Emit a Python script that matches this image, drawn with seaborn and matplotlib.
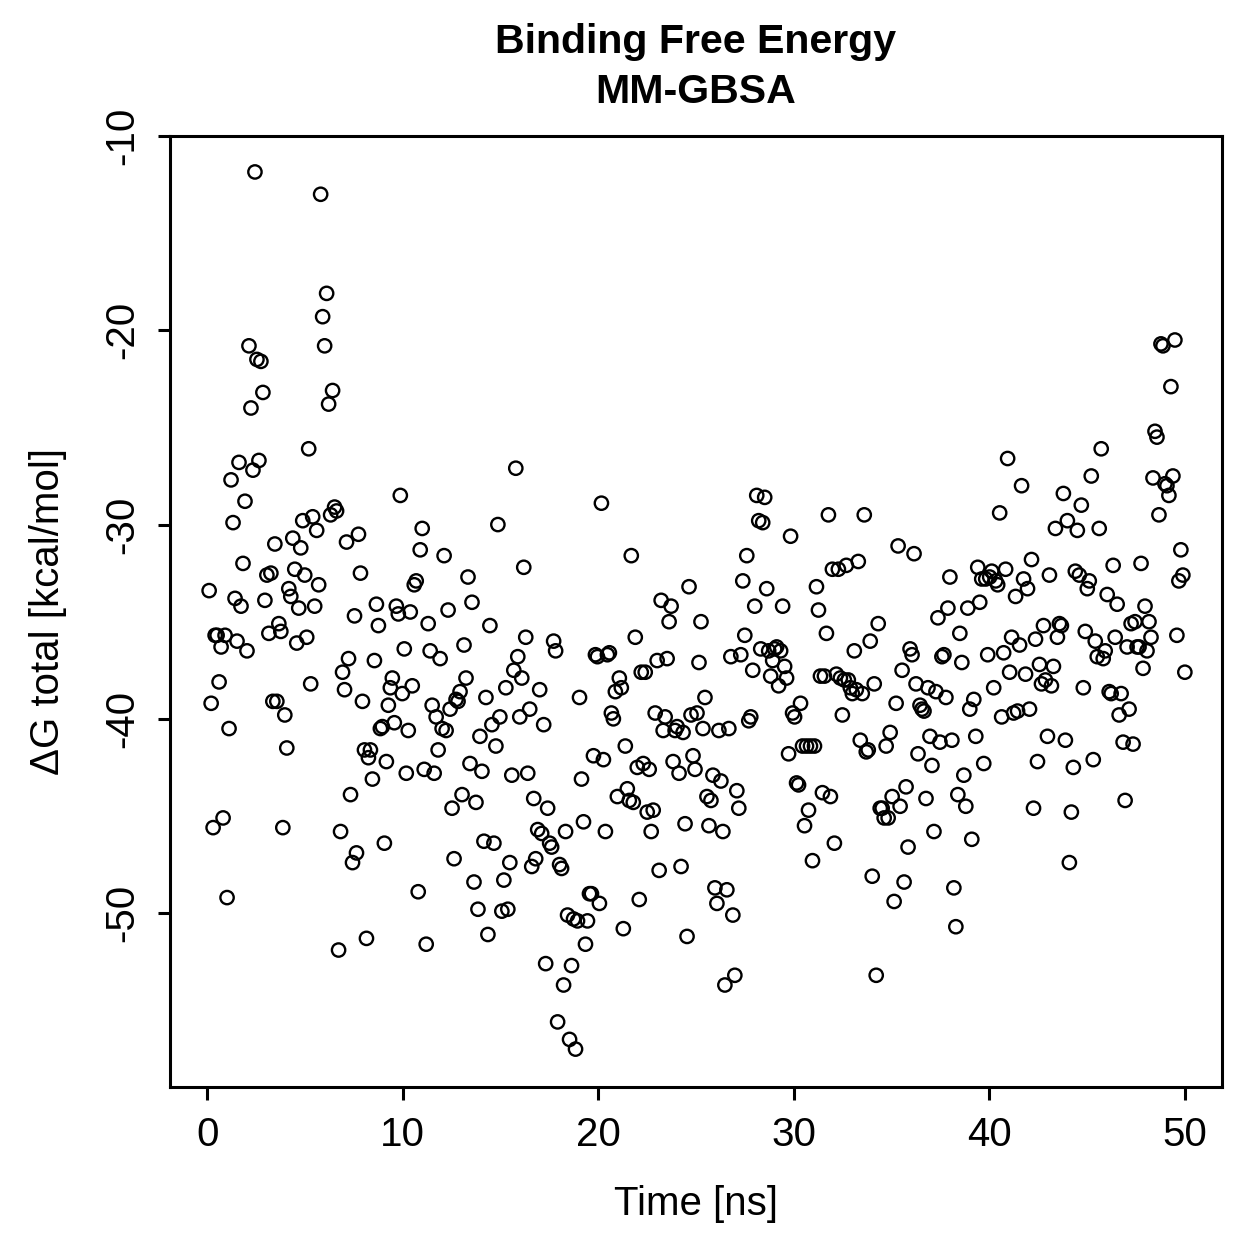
import numpy as np
import pandas as pd
import matplotlib
matplotlib.use("Agg")
import matplotlib.pyplot as plt
import seaborn as sns

# ---- data ----
dG_total = [
    -33.4, -39.2, -45.6, -35.7, -35.7, -38.1, -36.3, -45.1, -35.7, -49.2,
    -40.5, -27.7, -29.9, -33.8, -36.0, -26.8, -34.2, -32.0, -28.8, -36.5,
    -20.8, -24.0, -27.2, -11.85, -21.5, -26.7, -21.6, -23.2, -33.9, -32.6,
    -35.6, -32.5, -39.1, -31.0, -39.1, -35.1, -35.5, -45.6, -39.8, -41.5,
    -33.3, -33.7, -30.7, -32.3, -36.1, -34.3, -31.2, -29.8, -32.6, -35.8,
    -26.1, -38.2, -29.6, -34.2, -30.3, -33.1, -13.0, -19.3, -20.8, -18.1,
    -23.8, -29.5, -23.1, -29.1, -29.3, -51.9, -45.8, -37.6, -38.5, -30.9,
    -36.9, -43.9, -47.4, -34.7, -46.9, -30.5, -32.5, -39.1, -41.6, -51.3,
    -42.0, -41.6, -43.1, -37.0, -34.1, -35.2, -40.5, -40.4, -46.4, -42.2,
    -39.3, -38.4, -37.9, -40.2, -34.2, -34.6, -28.5, -38.7, -36.4, -42.8,
    -40.6, -34.5, -38.3, -33.1, -32.9, -48.9, -31.3, -30.2, -42.6, -51.6,
    -35.1, -36.5, -39.3, -42.8, -39.9, -41.6, -36.9, -40.5, -31.6, -40.6,
    -34.4, -39.5, -44.6, -47.2, -39.0, -39.1, -38.6, -43.9, -36.2, -37.9,
    -32.7, -42.3, -34.0, -48.4, -44.3, -49.8, -40.9, -42.7, -46.3, -38.9,
    -51.1, -35.2, -40.3, -46.4, -41.4, -30.0, -39.9, -49.9, -48.3, -38.4,
    -49.8, -47.4, -42.9, -37.5, -27.1, -36.8, -39.9, -37.9, -32.2, -35.8,
    -42.8, -39.5, -47.6, -44.1, -47.2, -45.7, -38.5, -45.9, -40.3, -52.6,
    -44.6, -46.4, -46.6, -36.0, -36.5, -55.6, -47.5, -47.7, -53.7, -45.8,
    -50.1, -56.5, -52.7, -50.3, -57.0, -50.4, -38.9, -43.1, -45.3, -51.6,
    -50.4, -49.0, -49.0, -41.9, -36.7, -36.8, -49.5, -28.9, -42.1, -45.8,
    -36.7, -36.6, -39.7, -40.0, -38.6, -44.0, -37.9, -38.4, -50.8, -41.4,
    -43.6, -44.2, -31.6, -44.3, -35.8, -42.5, -49.3, -37.6, -42.3, -37.6,
    -44.8, -42.6, -45.8, -44.7, -39.7, -37.0, -47.8, -33.9, -40.6, -39.9,
    -36.9, -35.0, -34.2, -42.2, -40.6, -40.4, -42.8, -47.6, -40.7, -45.4,
    -51.2, -33.2, -39.8, -41.9, -42.6, -39.7, -37.1, -35.0, -40.5, -38.9,
    -44.0, -45.5, -44.2, -42.9, -48.7, -49.5, -40.6, -43.2, -45.8, -53.7,
    -48.8, -40.5, -36.8, -50.1, -53.2, -43.7, -44.6, -36.7, -32.9, -35.7,
    -31.6, -40.1, -39.9, -37.5, -34.2, -28.5, -29.8, -36.4, -29.9, -28.6,
    -33.3, -36.5, -37.8, -37.0, -36.4, -36.3, -38.3, -36.5, -34.2, -37.3,
    -37.9, -41.8, -30.6, -39.7, -39.9, -43.3, -43.4, -39.2, -41.4, -45.5,
    -41.4, -44.7, -41.4, -47.3, -41.4, -33.2, -34.4, -37.8, -43.8, -37.8,
    -35.6, -29.5, -44.0, -32.3, -46.4, -37.7, -32.3, -37.9, -39.8, -38.0,
    -32.1, -38.0, -38.4, -38.7, -36.5, -38.5, -31.9, -41.1, -38.7, -29.5,
    -41.7, -41.6, -36.0, -48.1, -38.2, -53.2, -35.1, -44.6, -44.6, -45.1,
    -41.4, -45.1, -40.7, -44.0, -49.4, -39.2, -31.1, -44.5, -37.5, -48.4,
    -43.5, -46.6, -36.4, -36.7, -31.5, -38.2, -41.8, -39.3, -39.5, -39.6,
    -44.1, -38.4, -40.9, -42.4, -45.8, -38.6, -34.8, -41.2, -36.8, -36.7,
    -38.9, -34.3, -32.7, -41.1, -48.7, -50.7, -43.9, -35.6, -37.1, -42.9,
    -44.5, -34.3, -39.5, -46.2, -39.0, -40.9, -32.2, -34.0, -32.8, -42.3,
    -32.8, -36.7, -32.7, -32.4, -38.4, -32.9, -33.1, -29.4, -39.9, -36.6,
    -32.3, -26.6, -37.6, -35.8, -39.7, -33.7, -39.6, -36.2, -28.0, -32.8,
    -37.7, -33.3, -39.5, -31.8, -44.6, -35.9, -42.2, -37.2, -38.2, -35.2,
    -38.0, -40.9, -32.6, -38.3, -37.3, -30.2, -35.8, -35.1, -35.2, -28.4,
    -41.1, -29.8, -47.4, -44.8, -42.5, -32.4, -30.3, -32.6, -29.0, -38.4,
    -35.5, -33.3, -32.9, -27.5, -42.1, -36.0, -36.8, -30.2, -26.1, -36.9,
    -36.5, -33.6, -38.6, -38.7, -32.1, -35.8, -34.1, -39.8, -38.7, -41.2,
    -44.2, -36.3, -39.5, -35.1, -41.3, -35.0, -36.3, -36.3, -32.0, -37.4,
    -34.2, -36.5, -35.0, -35.8, -27.6, -25.2, -25.5, -29.5, -20.7, -20.8,
    -27.9, -28.0, -28.5, -22.9, -27.5, -20.5, -35.7, -32.9, -31.3, -32.6,
    -37.6,
]
sim_length_ns = 50.0
frame_dt = sim_length_ns / len(dG_total)
time_ns = [round(frame_dt * (i + 1), 3) for i in range(len(dG_total))]

x_ticks = [0, 10, 20, 30, 40, 50]
y_ticks = [-50, -40, -30, -20, -10]
title_text = "Binding Free Energy\nMM-GBSA"
x_label = "Time [ns]"
y_label = "\u0394G total [kcal/mol]"

df = pd.DataFrame({"time": time_ns, "dG": dG_total})

# ---- styling ----
sns.set_style("ticks")
plt.rcParams["font.family"] = ["Liberation Sans", "DejaVu Sans"]
plt.rcParams["axes.linewidth"] = 1.1
plt.rcParams["xtick.major.width"] = 1.1
plt.rcParams["ytick.major.width"] = 1.1
plt.rcParams["xtick.major.size"] = 4.5
plt.rcParams["ytick.major.size"] = 4.5
plt.rcParams["xtick.color"] = "black"
plt.rcParams["ytick.color"] = "black"
plt.rcParams["xtick.labelcolor"] = "black"
plt.rcParams["ytick.labelcolor"] = "black"
plt.rcParams["axes.edgecolor"] = "black"
plt.rcParams["axes.labelcolor"] = "black"
plt.rcParams["text.color"] = "black"

fig = plt.figure(figsize=(6.295, 6.295), dpi=200)
ax = fig.add_axes([170 / 1259, 1 - 1087 / 1259, (1222 - 170) / 1259, (1087 - 136) / 1259])

sns.scatterplot(data=df, x="time", y="dG", ax=ax, marker="o", s=23,
                facecolors="none", edgecolor="black", linewidth=0.85, legend=False)

ax.set_xlim(-1.9, 51.9)
ax.set_ylim(-58.95, -10.0)
ax.set_xticks(x_ticks)
ax.set_yticks(y_ticks)
ax.set_xticklabels([str(v) for v in x_ticks], fontsize=14.5)
ax.set_yticklabels([str(v) for v in y_ticks], fontsize=14.5, rotation=90, va="center")
ax.tick_params(axis="x", pad=6)
ax.tick_params(axis="y", pad=6)
for s in ax.spines.values():
    s.set_visible(True)
    s.set_color("black")

ax.set_xlabel(x_label, fontsize=14.5, labelpad=11, color="black")
ax.set_ylabel(y_label, fontsize=14.5, labelpad=13, color="black")
ax.set_title(title_text, fontsize=14.8, fontweight="bold", pad=12, linespacing=1.4, color="black")

fig.savefig("out.png", dpi=200, facecolor="white")
